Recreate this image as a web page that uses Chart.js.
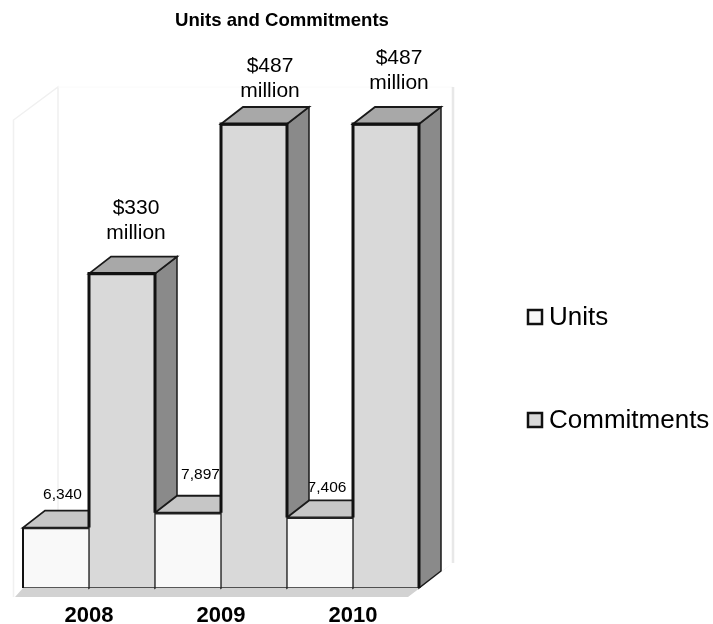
<!DOCTYPE html>
<html>
<head>
<meta charset="utf-8">
<title>Units and Commitments</title>
<style>
    html, body { margin: 0; padding: 0; background: #fff; overflow: hidden; }
    #wrap { width: 713px; height: 624px; }
</style>
<script src="https://cdn.jsdelivr.net/npm/chart.js@4"></script>
</head>
<body>
<div id="wrap"><canvas id="unitsChart" width="713" height="624"></canvas></div>
<script>
const years = ['2008', '2009', '2010'];
const units = [6340, 7897, 7406];
const commitments = [330, 487, 487];

// label placement relative to the front face of each bar
const unitLabelOffsets = [[6.5, -33], [12.5, -38], [7, -30]];
const commitLabelOffsets = [[14, -65], [16, -58], [13, -66]];

const FONT = '"Liberation Sans", Arial, sans-serif';
const DEPTH_X = 22;
const DEPTH_Y = 17;

function poly(ctx, pts, fill, stroke, lineWidth) {
    ctx.beginPath();
    pts.forEach((p, i) => i ? ctx.lineTo(p[0], p[1]) : ctx.moveTo(p[0], p[1]));
    ctx.closePath();
    if (fill) {
        ctx.fillStyle = fill;
        ctx.fill();
    }
    if (stroke) {
        ctx.strokeStyle = stroke;
        ctx.lineWidth = lineWidth;
        ctx.stroke();
    }
}

function line(ctx, pts, stroke, lineWidth) {
    ctx.beginPath();
    pts.forEach((p, i) => i ? ctx.lineTo(p[0], p[1]) : ctx.moveTo(p[0], p[1]));
    ctx.strokeStyle = stroke;
    ctx.lineWidth = lineWidth;
    ctx.stroke();
}

function drawBox(ctx, bar, topColor, sideColor) {
    const l = bar.x - bar.width / 2;
    const r = bar.x + bar.width / 2;
    const t = bar.y;
    const b = bar.base;
    poly(ctx, [[r, t], [r + DEPTH_X, t - DEPTH_Y], [r + DEPTH_X, b - DEPTH_Y], [r, b]], sideColor, '#1a1a1a', 1.5);
    poly(ctx, [[l, t], [l + DEPTH_X, t - DEPTH_Y], [r + DEPTH_X, t - DEPTH_Y], [r, t]], topColor, '#1a1a1a', 1.8);
}

const box3d = {
    id: 'box3d',
    beforeDatasetsDraw(chart) {
        const ctx = chart.ctx;
        const area = chart.chartArea;
        const unitBars = chart.getDatasetMeta(0).data;
        const commitBars = chart.getDatasetMeta(1).data;
        ctx.save();

        // pale back wall and side wall
        const wallTop = area.top - 37;
        line(ctx, [[13.5, area.bottom + 9], [13.5, wallTop + 33], [58, wallTop], [58, area.bottom - 78]], '#f0f0f0', 1.5);
        line(ctx, [[58, wallTop], [453, wallTop]], '#fafafa', 1);
        line(ctx, [[453, wallTop], [453, area.bottom - 25]], '#e8e8e8', 2.5);

        // floor
        poly(ctx, [[15, area.bottom + 9], [area.left, area.bottom], [area.right, area.bottom],
                   [453, area.bottom - 25], [408, area.bottom + 9]], '#d2d2d2');

        // unit labels sit behind the boxes
        ctx.fillStyle = '#000';
        ctx.font = '15.5px ' + FONT;
        ctx.textAlign = 'center';
        ctx.textBaseline = 'middle';
        unitBars.forEach((bar, i) => {
            ctx.fillText(units[i].toLocaleString('en-US'), bar.x + unitLabelOffsets[i][0], bar.y + unitLabelOffsets[i][1]);
        });

        // depth faces, left to right so nearer boxes cover farther ones
        years.forEach((y, i) => {
            drawBox(ctx, unitBars[i], '#c6c6c6', '#8a8a8a');
            drawBox(ctx, commitBars[i], '#a8a8a8', '#8a8a8a');
        });
        ctx.restore();
    },
    afterDatasetsDraw(chart) {
        const ctx = chart.ctx;
        const unitBars = chart.getDatasetMeta(0).data;
        const commitBars = chart.getDatasetMeta(1).data;
        ctx.save();

        // heavier edges where a front face stands clear of its neighbours
        line(ctx, [[unitBars[0].x - unitBars[0].width / 2, unitBars[0].y], [unitBars[0].x - unitBars[0].width / 2, unitBars[0].base]], '#111', 2);
        commitBars.forEach((bar, i) => {
            const l = bar.x - bar.width / 2;
            const r = bar.x + bar.width / 2;
            const rightStop = unitBars[i + 1] ? unitBars[i + 1].y : bar.base;
            line(ctx, [[l, unitBars[i].y], [l, bar.y], [r, bar.y], [r, rightStop]], '#111', 3);
        });

        // commitment labels
        ctx.fillStyle = '#000';
        ctx.font = '21px ' + FONT;
        ctx.textAlign = 'center';
        ctx.textBaseline = 'middle';
        commitBars.forEach((bar, i) => {
            const x = bar.x + commitLabelOffsets[i][0];
            const y = bar.y + commitLabelOffsets[i][1];
            ctx.fillText('$' + commitments[i], x, y);
            ctx.fillText('million', x, y + 25);
        });

        // legend, stacked to the right of the plot
        const rows = [317, 420];
        chart.data.datasets.forEach((ds, i) => {
            ctx.fillStyle = ds.backgroundColor;
            ctx.fillRect(528, rows[i] - 7, 14, 14);
            ctx.strokeStyle = '#111';
            ctx.lineWidth = 2.5;
            ctx.strokeRect(528, rows[i] - 7, 14, 14);
            ctx.fillStyle = '#000';
            ctx.font = '26px ' + FONT;
            ctx.textAlign = 'left';
            ctx.fillText(ds.label, 549, rows[i] + 1);
        });
        ctx.restore();
    },
    afterLayout(chart) {
        // the title sits over the plot rather than over the full page
        chart.titleBlock.left = 0;
        chart.titleBlock.right = 564;
    }
};

new Chart(document.getElementById('unitsChart'), {
    type: 'bar',
    data: {
        labels: years,
        datasets: [
            {
                label: 'Units',
                data: units,
                yAxisID: 'yUnits',
                backgroundColor: '#f9f9f9',
                borderColor: '#222',
                borderWidth: { left: 1, right: 1, top: 2, bottom: 1 },
                borderSkipped: false
            },
            {
                label: 'Commitments',
                data: commitments,
                yAxisID: 'yCommit',
                backgroundColor: '#d9d9d9',
                borderColor: '#222',
                borderWidth: { left: 1, right: 1, top: 2, bottom: 1 },
                borderSkipped: false
            }
        ]
    },
    options: {
        responsive: false,
        animation: false,
        layout: { padding: { left: 23, right: 294, top: 0, bottom: 0 } },
        datasets: { bar: { categoryPercentage: 1, barPercentage: 1 } },
        plugins: {
            legend: { display: false },
            tooltip: { enabled: false },
            title: {
                display: true,
                text: 'Units and Commitments',
                color: '#000',
                font: { family: FONT, size: 18.6, weight: 'bold' },
                padding: { top: 10, bottom: 91.7 }
            }
        },
        scales: {
            x: {
                grid: { display: false },
                border: { display: false },
                afterFit(scale) { scale.height = 36; },
                ticks: {
                    color: '#000',
                    padding: 7,
                    maxRotation: 0,
                    font: { family: FONT, size: 22, weight: 'bold' }
                }
            },
            yUnits: { display: false, min: 0, max: 48700 },
            yCommit: { display: false, min: 0, max: 487 }
        }
    },
    plugins: [box3d]
});
</script>
</body>
</html>
